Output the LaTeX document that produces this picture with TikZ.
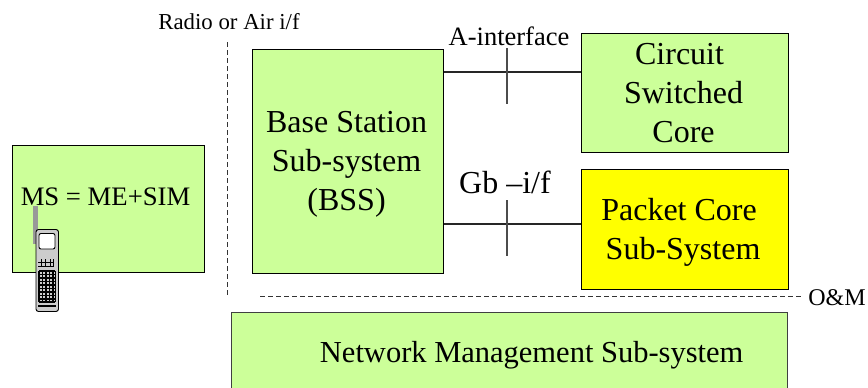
\documentclass[tikz,border=0pt]{standalone}
\usepackage{fontspec}
\setmainfont{Liberation Serif}
\definecolor{boxgreen}{HTML}{CCFF99}
\definecolor{boxyellow}{HTML}{FFFF00}
\definecolor{phonegrey}{HTML}{CCCCCC}
\definecolor{antgrey}{HTML}{999999}
\begin{document}
\begin{tikzpicture}[x=1pt,y=-1pt,
  blockbox/.style={draw=black,line width=1.1pt,fill=boxgreen,inner sep=0pt,align=center,font=\fontsize{32}{39}\selectfont},
  lbl/.style={inner sep=0pt,text=black},
  wire/.style={draw=black!85,line width=1.1pt},
  tickline/.style={draw=black!70,line width=1.1pt},
  dashline/.style={draw=black!80,line width=1pt,dash pattern=on 5pt off 3pt},
  phonepart/.style={draw=black,line width=0.9pt}]
\useasboundingbox (0,0) rectangle (868,388);
\path[fill=white] (0,0) rectangle (868,388);
\node[blockbox,minimum width=192pt,minimum height=127pt,anchor=north west,font=\fontsize{26.7}{30}\selectfont] (ms) at (11.5,144.5) {\raisebox{24pt}{\hspace*{-5pt}MS = ME+SIM}};
\node[blockbox,minimum width=191pt,minimum height=224pt,anchor=north west] (bss) at (251.5,48.5) {\rule{0pt}{27pt}\hspace*{-2pt}Base Station\\\hspace*{-2pt}Sub-system\\\hspace*{-2pt}(BSS)};
\node[blockbox,minimum width=207pt,minimum height=119pt,anchor=north west] (cs) at (580.5,32.5) {\rule{0pt}{22pt}\hspace*{-10pt}Circuit\\\hspace*{-2pt}Switched\\\hspace*{-2pt}Core};
\node[blockbox,fill=boxyellow,minimum width=207pt,minimum height=120pt,anchor=north west] (pc) at (580.5,168.5) {\rule{0pt}{28pt}\hspace*{-11pt}Packet Core\\\hspace*{-3pt}Sub-System};
\path[fill=boxgreen] (231.5,312.5) rectangle (787.5,388);
\node[inner sep=0pt,minimum width=556pt,minimum height=76pt,anchor=north west,font=\fontsize{30.5}{34}\selectfont] (nms) at (231.5,312.5) {\rule{0pt}{31pt}\hspace*{44pt}Network Management Sub-system};
\draw[draw=black!75,line width=1.1pt] (nms.south west) -- (nms.north west) -- (nms.north east) -- (nms.south east);
\coordinate (aw) at (bss.east |- 0,72);
\coordinate (ae) at (cs.west |- 0,72);
\coordinate (gw) at (bss.east |- 0,224);
\coordinate (ge) at (pc.west |- 0,224);
\draw[wire] (aw) -- (ae);
\draw[wire] (gw) -- (ge);
\coordinate (at) at (507,48); \coordinate (ab) at (507,104);
\coordinate (gt) at (507,200); \coordinate (gb) at (507,256);
\draw[tickline] (at) -- (ab);
\draw[tickline] (gt) -- (gb);
\coordinate (vt) at (227,42); \coordinate (vb) at (227,296);
\coordinate (ht) at (260,296); \coordinate (hb) at (803,296);
\draw[dashline] (vt) -- (vb);
\draw[dashline] (ht) -- (hb);
\node[lbl,font=\fontsize{22.8}{26}\selectfont] (radio) at (229,22) {Radio or Air i/f};
\node[lbl,font=\fontsize{26.5}{30}\selectfont] (aif) at (509,36) {A-interface};
\node[lbl,font=\fontsize{32}{36}\selectfont] (gbif) at (505,182) {Gb –i/f};
\node[lbl,font=\fontsize{24}{26}\selectfont] (om) at (837,298) {O\&M};
% phone
\fill[antgrey] (32.5,206) rectangle (37.5,244);
\draw[phonepart,fill=phonegrey,rounded corners=2.5pt] (36,229.5) rectangle (58.5,311.5);
\draw[phonepart,fill=white,rounded corners=2pt] (39,233.5) rectangle (55,249);
\draw[phonepart] (38,262) -- (54,262);
\draw[phonepart] (38,266) -- (54,266);
\foreach \x in {41,45,50,53} \draw[phonepart,line width=0.7pt] (\x,259) -- (\x,266);
\foreach \y in {271,274.5,278,281.5,285,288.5,292,295.5,299,302} \draw[phonepart,line width=1.1pt] (39,\y) -- (55,\y);
\foreach \x in {39,42.5,46,49.5,53,55.5} \draw[phonepart,line width=1.1pt] (\x,271) -- (\x,302);
\draw[phonepart,line width=1.1pt] (38,306) -- (56,306);
\end{tikzpicture}
\end{document}
